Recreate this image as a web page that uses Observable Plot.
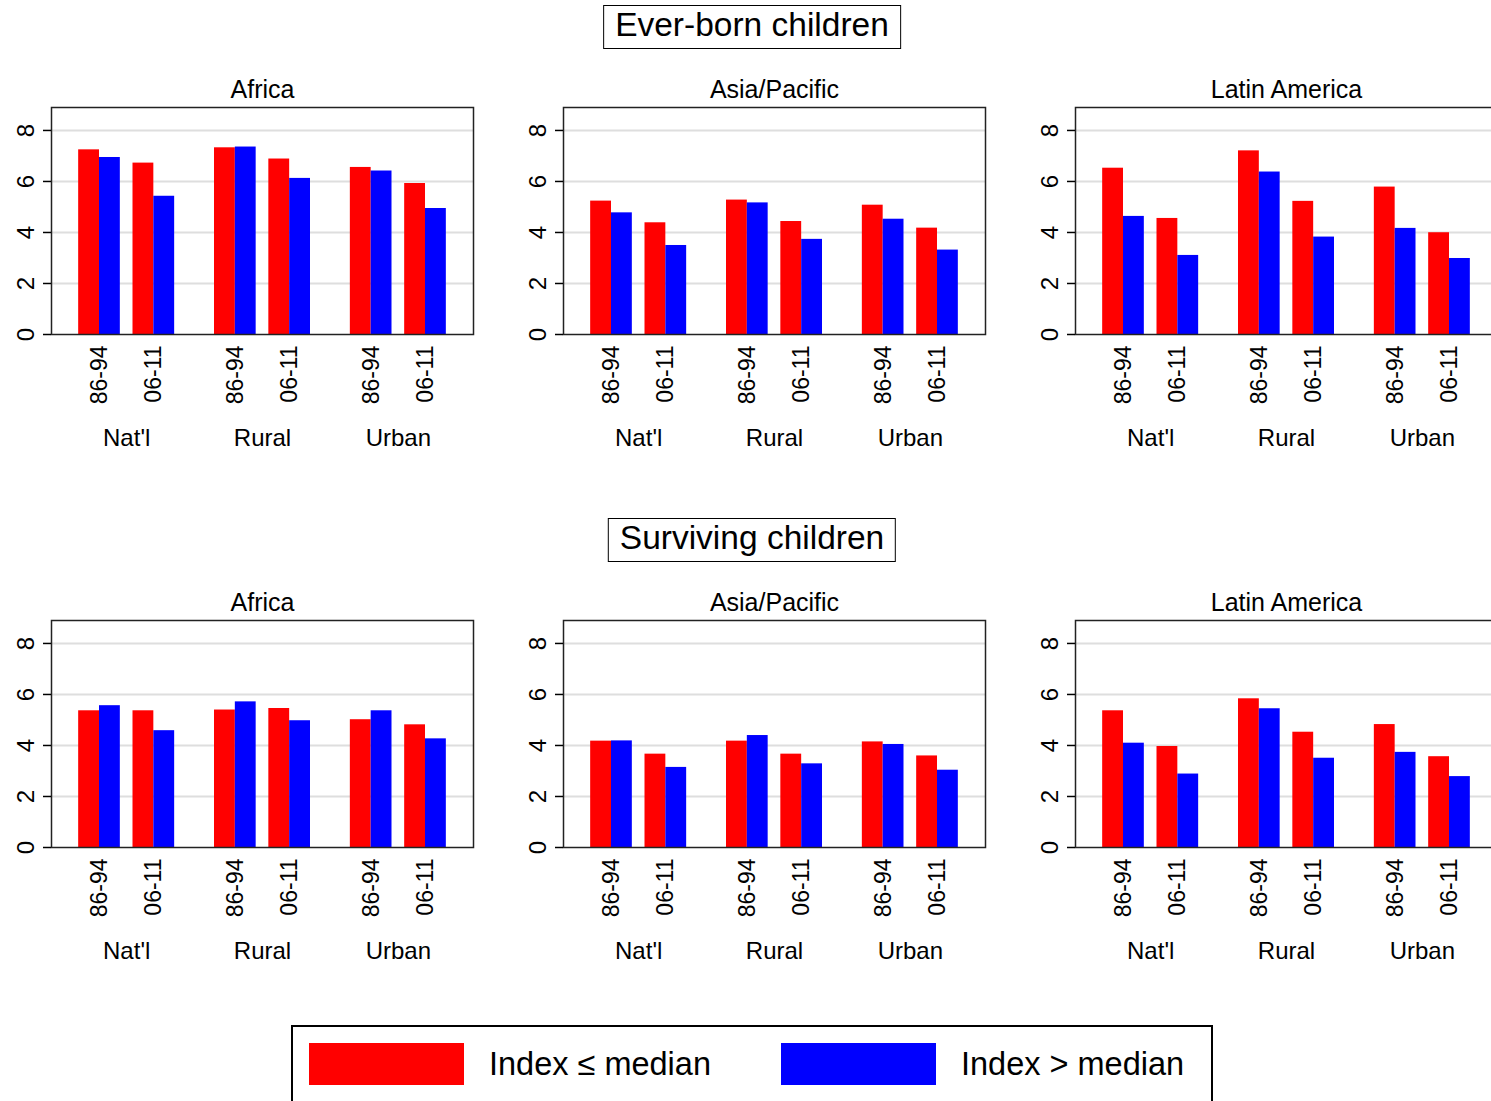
<!DOCTYPE html>
<html>
<head>
<meta charset="utf-8">
<script src="https://cdn.jsdelivr.net/npm/d3@7"></script>
<script src="https://cdn.jsdelivr.net/npm/@observablehq/plot@0.6"></script>
<style>
  html, body { margin: 0; padding: 0; background: #fff; }
  #page { position: relative; width: 1491px; height: 1101px; overflow: hidden; background: #fff;
          font-family: "Liberation Sans", Arial, Helvetica, sans-serif; color: #000; }
  .section { position: absolute; left: 752px; transform: translateX(-50%); border: 1.5px solid #000;
             height: 42px; line-height: 38px; padding: 0 11px; font-size: 33.5px; white-space: nowrap; background: #fff; }
  .panel { position: absolute; width: 512px; height: 400px; }
  .panel svg { max-width: none !important; width: 512px; height: 400px; }
  #legendBox { position: absolute; left: 291px; top: 1025px; width: 918px; height: 140px; border: 2px solid #000;
               box-sizing: content-box; }
  #legendInner { position: absolute; left: 16px; top: 16px; }
  .leg-swatches { font-family: "Liberation Sans", Arial, Helvetica, sans-serif !important; font-size: 32.5px !important;
                  margin: 0 !important; color: #000; flex-wrap: nowrap !important; }
  .leg-swatch { margin-right: 0 !important; }
  .leg-swatch:first-of-type { width: 472px; }
  .leg-swatch > svg { margin-right: 25px !important; }
</style>
</head>
<body>
<div id="page"></div>
<script>
// ---- data ----
const outcomes = ["Ever-born children", "Surviving children"];
const regions = ["Africa", "Asia/Pacific", "Latin America"];
const groups = ["Nat'l", "Rural", "Urban"];
const periods = ["86-94", "06-11"];
const series = ["Index \u2264 median", "Index > median"];
const seriesColors = ["#ff0000", "#0000ff"];
const yTicks = [0, 2, 4, 6, 8];

// values per region, order: Nat'l 86-94, Nat'l 06-11, Rural 86-94, Rural 06-11, Urban 86-94, Urban 06-11
const everBornLow = [
  [7.24, 6.72, 7.32, 6.88, 6.55, 5.92],
  [5.23, 4.38, 5.27, 4.43, 5.07, 4.17],
  [6.52, 4.55, 7.20, 5.22, 5.78, 3.99]
];
const everBornHigh = [
  [6.94, 5.42, 7.35, 6.12, 6.41, 4.94],
  [4.77, 3.49, 5.16, 3.73, 4.52, 3.31],
  [4.63, 3.10, 6.37, 3.82, 4.16, 2.98]
];
const survivingLow = [
  [5.36, 5.36, 5.39, 5.45, 5.01, 4.81],
  [4.17, 3.66, 4.17, 3.66, 4.14, 3.59],
  [5.36, 3.96, 5.83, 4.52, 4.82, 3.56]
];
const survivingHigh = [
  [5.56, 4.58, 5.71, 4.97, 5.36, 4.26],
  [4.18, 3.14, 4.39, 3.28, 4.04, 3.03],
  [4.09, 2.88, 5.44, 3.50, 3.73, 2.78]
];

// ---- layout ----
const FONT = "'Liberation Sans', Arial, Helvetica, sans-serif";
const W = 512, H = 400, mL = 51, mR = 39, mT = 47, mB = 126;
const PAD_IN = 0.2933, PAD_OUT = 0.2;
const step = (W - mL - mR) / (groups.length - PAD_IN + 2 * PAD_OUT);
const bw = step * (1 - PAD_IN);
const barW = bw * 0.217;
const pairOffset = bw / 2 - barW;

function panel(title, low, high) {
  const rows = [];
  groups.forEach((g, gi) => periods.forEach((p, pi) => {
    const k = gi * 2 + pi;
    rows.push({group: g, period: p, series: series[0], value: low[k]});
    rows.push({group: g, period: p, series: series[1], value: high[k]});
  }));
  const slot = [
    {period: periods[0], s: series[0], insetLeft: 0, insetRight: bw - barW},
    {period: periods[0], s: series[1], insetLeft: barW, insetRight: bw - 2 * barW},
    {period: periods[1], s: series[0], insetLeft: bw - 2 * barW, insetRight: barW},
    {period: periods[1], s: series[1], insetLeft: bw - barW, insetRight: 0}
  ];
  return Plot.plot({
    width: W, height: H,
    marginLeft: mL, marginRight: mR, marginTop: mT, marginBottom: mB,
    style: {fontFamily: FONT, fontSize: "24px", background: "transparent", color: "#000", overflow: "visible"},
    x: {type: "band", domain: groups, paddingInner: PAD_IN, paddingOuter: PAD_OUT, round: false},
    y: {domain: [0, 8.9]},
    color: {domain: series, range: seriesColors},
    marks: [
      Plot.gridY({ticks: [2, 4, 6, 8], stroke: "#dedede", strokeOpacity: 1, strokeWidth: 2}),
      ...slot.map(o => Plot.barY(rows.filter(r => r.period === o.period && r.series === o.s), {
        x: "group", y: "value", fill: "series", insetLeft: o.insetLeft, insetRight: o.insetRight
      })),
      Plot.frame({stroke: "#222", strokeWidth: 1.5}),
      Plot.axisY({ticks: yTicks, tickSize: 8, tickPadding: 10, tickRotate: -90, fontSize: 24,
                  tickFormat: d => String(d), label: null, strokeWidth: 1.5}),
      Plot.axisX({tickSize: 0, tickPadding: 94, fontSize: 24, label: null}),
      ...periods.map((p, pi) => Plot.text(groups, {
        x: d => d, text: () => p, frameAnchor: "bottom",
        dx: pi === 0 ? -pairOffset : pairOffset, dy: 11,
        rotate: -90, textAnchor: "end", lineAnchor: "middle", fontSize: 23
      })),
      Plot.text([title], {text: d => d, frameAnchor: "top", dy: -10, lineAnchor: "bottom", fontSize: 25})
    ]
  });
}

const page = document.getElementById("page");
const rowTops = [60, 573];
const sectionTops = [5, 518];
const sets = [[everBornLow, everBornHigh], [survivingLow, survivingHigh]];

outcomes.forEach((name, oi) => {
  const box = document.createElement("div");
  box.className = "section";
  box.style.top = sectionTops[oi] + "px";
  box.textContent = name;
  page.appendChild(box);
  regions.forEach((reg, ri) => {
    const holder = document.createElement("div");
    holder.className = "panel";
    holder.style.left = (ri * W) + "px";
    holder.style.top = rowTops[oi] + "px";
    holder.appendChild(panel(reg, sets[oi][0][ri], sets[oi][1][ri]));
    page.appendChild(holder);
  });
});

const legendBox = document.createElement("div");
legendBox.id = "legendBox";
const legendInner = document.createElement("div");
legendInner.id = "legendInner";
legendInner.appendChild(Plot.legend({
  legend: "swatches",
  color: {domain: series, range: seriesColors},
  swatchWidth: 155, swatchHeight: 42, className: "leg"
}));
legendBox.appendChild(legendInner);
page.appendChild(legendBox);
</script>
</body>
</html>
